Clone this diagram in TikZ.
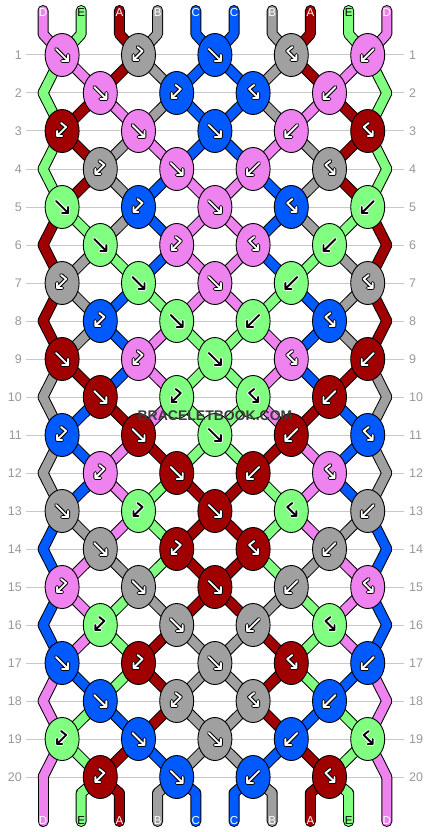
\documentclass[tikz,border=0pt]{standalone}
\usepackage{fontspec}
\setmainfont{Liberation Sans}
\usetikzlibrary{shapes.geometric,backgrounds}

\definecolor{strD}{HTML}{EE82EE}
\definecolor{strE}{HTML}{80FF80}
\definecolor{strA}{HTML}{A00000}
\definecolor{strB}{HTML}{A0A0A0}
\definecolor{strC}{HTML}{005AFF}
\definecolor{rowgray}{HTML}{C8C8C8}
\definecolor{labgray}{HTML}{999999}
\definecolor{markgray}{HTML}{3C3C3C}
\colorlet{inkD}{white}\colorlet{inkE}{black}\colorlet{inkA}{white}
\colorlet{inkB}{white}\colorlet{inkC}{white}
\colorlet{rimD}{black}\colorlet{rimE}{white}\colorlet{rimA}{black}
\colorlet{rimB}{black}\colorlet{rimC}{black}

% mirrored knot types
\def\mirf{b}
\def\mirbf{fb}

% all thread segments, one pass (outline or colour)
\newcommand\threadpass[1]{%
  \foreach \c [count=\s] in {D,E,A,B,C,C,B,A,E,D} {
    \pgfmathtruncatemacro\pa{\s-mod(\s+1,2)}
    \draw[thread, draw=str\c, #1] (top-\s) -- (topb-\s) -- (k-1-\pa.center);
  }
  \foreach \r/\st in {
    1/{E,D,A,B,C,C,B,A,D,E},
    2/{E,A,D,B,C,C,B,D,A,E},
    3/{E,A,B,D,C,C,D,B,A,E},
    4/{E,A,B,C,D,D,C,B,A,E},
    5/{A,E,B,C,D,D,C,B,E,A},
    6/{A,B,E,C,D,D,C,E,B,A},
    7/{A,B,C,E,D,D,E,C,B,A},
    8/{A,B,C,D,E,E,D,C,B,A},
    9/{B,A,C,D,E,E,D,C,A,B},
    10/{B,C,A,D,E,E,D,A,C,B},
    11/{B,C,D,A,E,E,A,D,C,B},
    12/{B,C,D,E,A,A,E,D,C,B},
    13/{C,B,D,E,A,A,E,D,B,C},
    14/{C,D,B,E,A,A,E,B,D,C},
    15/{C,D,E,B,A,A,B,E,D,C},
    16/{C,D,E,A,B,B,A,E,D,C},
    17/{D,C,E,A,B,B,A,E,C,D},
    18/{D,E,C,A,B,B,A,C,E,D},
    19/{D,E,A,C,B,B,C,A,E,D}} {
    \pgfmathtruncatemacro\rn{\r+1}
    \foreach \c [count=\s] in \st {
      \pgfmathtruncatemacro\pa{\s-mod(\s+\r,2)}
      \pgfmathtruncatemacro\pb{\s-mod(\s+\rn,2)}
      \draw[thread, draw=str\c, #1] (k-\r-\pa.center) -- (k-\rn-\pb.center);
    }
  }
  \foreach \c [count=\s] in {D,E,A,B,C,C,B,A,E,D} {
    \pgfmathtruncatemacro\pa{\s-mod(\s,2)}
    \draw[thread, draw=str\c, #1] (k-20-\pa.center) -- (botb-\s) -- (bot-\s);
  }%
}

\begin{document}
\begin{tikzpicture}[x=1pt, y=-1pt,
  knot/.style={ellipse, draw=black, line width=0.9pt, minimum width=34pt,
    minimum height=43pt, inner sep=0pt},
  thread/.style={line width=9pt, line cap=round, line join=round},
  thread rim/.style={line width=11pt, draw=black},
  guide/.style={draw=rowgray, line width=1pt},
  rowlab/.style={text=labgray, font=\fontsize{12.5}{15}\selectfont, inner sep=0pt},
  letter/.style={font=\fontsize{11.5}{13}\selectfont, inner sep=0pt},
  arrow/.style={draw=rim\c, double=ink\c, double distance=1.9pt, line width=1pt,
    line cap=round, line join=round},
  pics/arrow f/.style={code={\draw[arrow] (-6,-6) -- (6,6) (0,6) -- (6,6) -- (6,0);}},
  pics/arrow b/.style={code={\draw[arrow] (6,-6) -- (-6,6) (0,6) -- (-6,6) -- (-6,0);}},
  pics/arrow bf/.style={code={\draw[arrow] (-1,-8) -- (4,-4) -- (-5,5) (-5,0) -- (-5,5) -- (0,5);}},
  pics/arrow fb/.style={code={\draw[arrow] (1,-8) -- (-4,-4) -- (5,5) (5,0) -- (5,5) -- (0,5);}}]
  \useasboundingbox (0,0) rectangle (430,832);

  % thread ends and free edge points
  \foreach \s in {1,...,10} {
    \coordinate (top-\s) at ({43+38.2*(\s-1)}, 10.5);
    \coordinate (topb-\s) at ({43+38.2*(\s-1)}, 34);
    \coordinate (botb-\s) at ({43+38.2*(\s-1)}, 793);
    \coordinate (bot-\s) at ({43+38.2*(\s-1)}, 821.5);
  }
  \foreach \r in {2,4,...,20} {
    \coordinate (k-\r-0) at (43, {55+38*(\r-1)});
    \coordinate (k-\r-10) at (386.8, {55+38*(\r-1)});
  }

  % knots: left half given, right half mirrored
  \foreach \r/\kl in {
    1/{1/f/D,3/bf/B,5/f/C},
    2/{2/f/D,4/bf/C},
    3/{1/bf/A,3/f/D,5/f/C},
    4/{2/bf/B,4/f/D},
    5/{1/f/E,3/bf/C,5/f/D},
    6/{2/f/E,4/bf/D},
    7/{1/bf/B,3/f/E,5/f/D},
    8/{2/bf/C,4/f/E},
    9/{1/f/A,3/bf/D,5/f/E},
    10/{2/f/A,4/bf/E},
    11/{1/bf/C,3/f/A,5/f/E},
    12/{2/bf/D,4/f/A},
    13/{1/f/B,3/bf/E,5/f/A},
    14/{2/f/B,4/bf/A},
    15/{1/bf/D,3/f/B,5/f/A},
    16/{2/bf/E,4/f/B},
    17/{1/f/C,3/bf/A,5/f/B},
    18/{2/f/C,4/bf/B},
    19/{1/bf/E,3/f/C,5/f/B},
    20/{2/bf/A,4/f/C}} {
    \foreach \p/\t/\c in \kl {
      \node[knot, fill=str\c] (k-\r-\p) at ({62.1+38.2*(\p-1)}, {55+38*(\r-1)}) {};
      \pic at (k-\r-\p) {arrow \t};
      \ifnum\p<5
        \pgfmathtruncatemacro\q{10-\p}
        \edef\mt{\csname mir\t\endcsname}
        \node[knot, fill=str\c] (k-\r-\q) at ({62.1+38.2*(\q-1)}, {55+38*(\r-1)}) {};
        \pic at (k-\r-\q) {arrow \mt};
      \fi
    }
  }

  \begin{pgfonlayer}{background}
    \fill[white] (0,0) rectangle (430,832);
    \foreach \r in {1,...,20} {
      \node[rowlab, anchor=east] (ll-\r) at (22, {55+38*(\r-1)}) {\r};
      \node[rowlab, anchor=west] (rl-\r) at (409, {55+38*(\r-1)}) {\r};
      \draw[guide] ([xshift=4pt]ll-\r.east) -- ([xshift=-5pt]rl-\r.west);
    }
    \threadpass{thread rim}
    \threadpass{}
  \end{pgfonlayer}

  % thread letters
  \foreach \c [count=\s] in {D,E,A,B,C,C,B,A,E,D} {
    \node[letter, text=ink\c] (tl-\s) at (top-\s) [yshift=-2pt] {\c};
    \node[letter, text=ink\c] (bl-\s) at (bot-\s) [yshift=1pt] {\c};
  }

  \node[font=\bfseries\fontsize{14}{16}\selectfont, text=markgray, inner sep=0pt]
    (mark) at (215,416) {BRACELETBOOK.COM};
\end{tikzpicture}
\end{document}
